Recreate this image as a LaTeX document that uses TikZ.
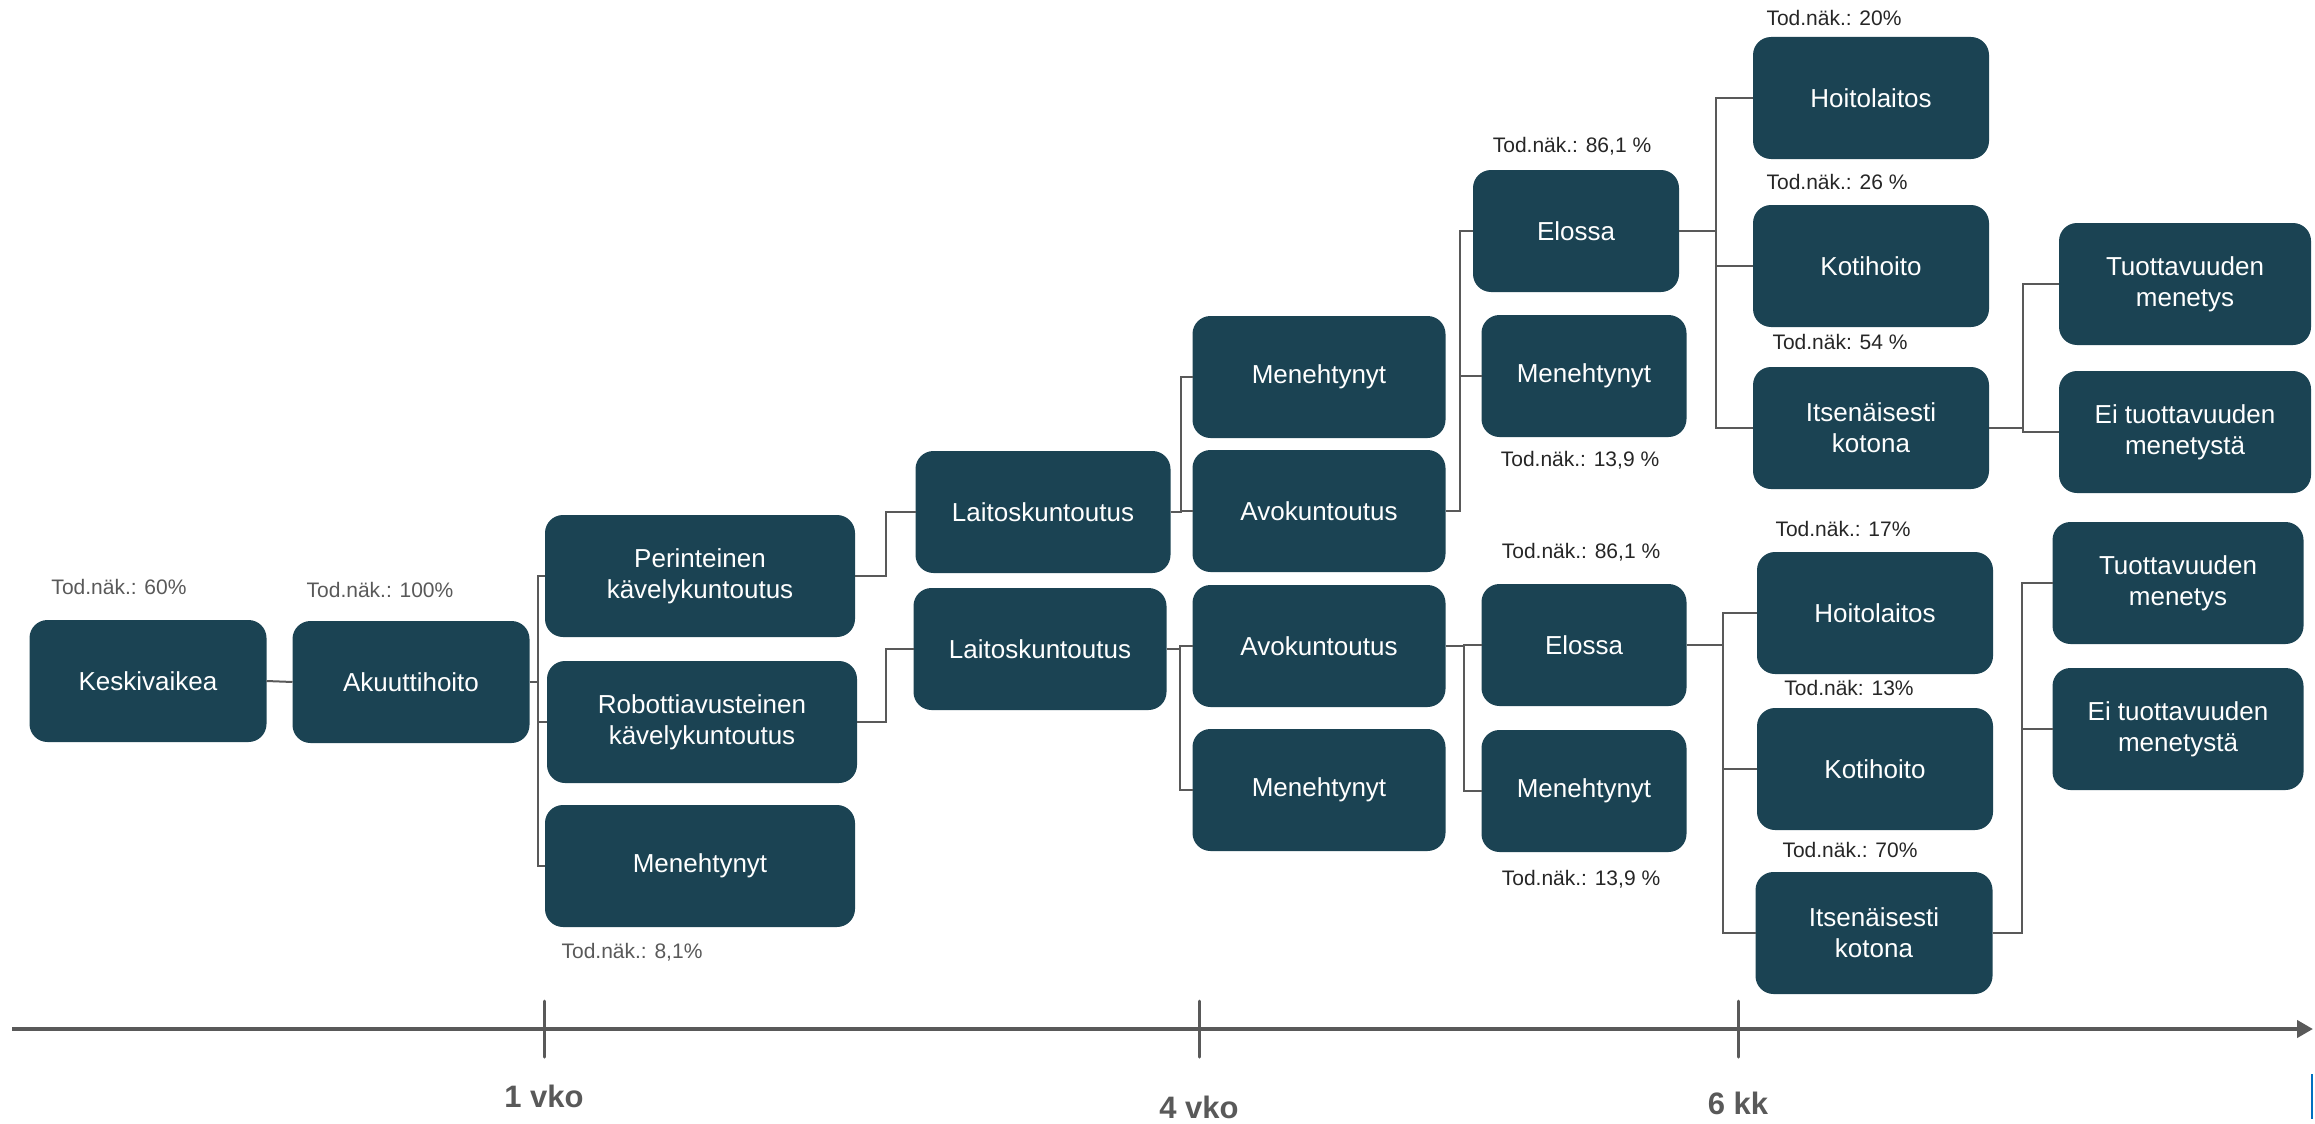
\documentclass[tikz,border=0pt]{standalone}
\usepackage{fontspec}
\setmainfont{Liberation Sans}
\usepackage{xcolor}
\usepackage{tikz}
\usetikzlibrary{arrows.meta}
\definecolor{boxfill}{HTML}{1B4353}
\definecolor{linegray}{HTML}{595959}
\definecolor{probdark}{HTML}{262626}
\definecolor{markblue}{HTML}{0070C0}
\tikzset{
  box/.style={rectangle, fill=boxfill, rounded corners=18pt, text=white, align=center, inner sep=0pt, outer sep=0pt, minimum width=#1pt, minimum height=122pt, font=\fontsize{26}{31}\selectfont},
  box/.default=237,
  prob/.style={text=probdark, inner sep=0pt, font=\fontsize{21}{25}\selectfont},
  conn/.style={draw=linegray, line width=2pt},
  axis/.style={draw=linegray, line width=4pt, -{Triangle[length=16pt, width=17pt]}},
  tickmark/.style={draw=linegray, line width=3pt, line cap=round},
  timelabel/.style={text=linegray, font=\bfseries\fontsize{31}{37}\selectfont},
}

\begin{document}
\begin{tikzpicture}[x=1pt, y=-1pt]
    \useasboundingbox (0,0) rectangle (2315,1124);

    \node[box] (kesk) at (148,681) {Keskivaikea};
    \node[box] (akuutti) at (411,682) {Akuuttihoito};
    \node[box=310] (perint) at (700,576) {Perinteinen\\kävelykuntoutus};
    \node[box=310] (robot) at (702,722) {Robottiavusteinen\\kävelykuntoutus};
    \node[box=310] (men1) at (700,866) {Menehtynyt};
    \node[box=255] (lait1) at (1043,512) {Laitoskuntoutus};
    \node[box=253] (lait2) at (1040,649) {Laitoskuntoutus};
    \node[box=253] (menA) at (1319,377) {Menehtynyt};
    \node[box=253] (avoA) at (1319,511) {Avokuntoutus};
    \node[box=253] (avoB) at (1319,646) {Avokuntoutus};
    \node[box=253] (menB) at (1319,790) {Menehtynyt};
    \node[box=206] (eloA) at (1576,231) {Elossa};
    \node[box=205] (menC) at (1584,376) {Menehtynyt};
    \node[box=205] (eloB) at (1584,645) {Elossa};
    \node[box=205] (menD) at (1584,791) {Menehtynyt};
    \node[box=236] (hoiA) at (1871,98) {Hoitolaitos};
    \node[box=236] (kotA) at (1871,266) {Kotihoito};
    \node[box=236] (itsA) at (1871,428) {Itsenäisesti\\kotona};
    \node[box=236] (hoiB) at (1875,613) {Hoitolaitos};
    \node[box=236] (kotB) at (1875,769) {Kotihoito};
    \node[box=237] (itsB) at (1874,933) {Itsenäisesti\\kotona};
    \node[box=252] (tuoA) at (2185,284) {Tuottavuuden\\menetys};
    \node[box=252] (eiA) at (2185,432) {Ei tuottavuuden\\menetystä};
    \node[box=251] (tuoB) at (2178,583) {Tuottavuuden\\menetys};
    \node[box=251] (eiB) at (2178,729) {Ei tuottavuuden\\menetystä};

    \node[prob, text=linegray] (p60) at (119,587) {Tod.näk.: 60\%};
    \node[prob, text=linegray] (p100) at (380,590) {Tod.näk.: 100\%};
    \node[prob, text=linegray] (p81) at (632,952) {Tod.näk.: 8,1\%};
    \node[prob] (pEloA) at (1572,146) {Tod.näk.: 86,1 \%};
    \node[prob] (pMenC) at (1580,460) {Tod.näk.: 13,9 \%};
    \node[prob] (pEloB) at (1581,552) {Tod.näk.: 86,1 \%};
    \node[prob] (pMenD) at (1581,879) {Tod.näk.: 13,9 \%};
    \node[prob] (pHoiA) at (1834,18) {Tod.näk.: 20\%};
    \node[prob] (pKotA) at (1837,182) {Tod.näk.: 26 \%};
    \node[prob] (pItsA) at (1840,342) {Tod.näk: 54 \%};
    \node[prob] (pHoiB) at (1843,529) {Tod.näk.: 17\%};
    \node[prob] (pKotB) at (1849,688) {Tod.näk: 13\%};
    \node[prob] (pItsB) at (1850,850) {Tod.näk.: 70\%};

    \draw[conn] (kesk.east) -- (akuutti.west);
    \foreach \n in {perint,robot,men1}
      \draw[conn] (akuutti.east) -- ++(8,0) |- (\n.west);
    \draw[conn] (perint.east) -- ++(31,0) |- (lait1.west);
    \draw[conn] (robot.east) -- ++(29,0) |- (lait2.west);
    \foreach \n in {menA,avoA}
      \draw[conn] (lait1.east) -- ++(10,0) |- (\n.west);
    \foreach \n in {avoB,menB}
      \draw[conn] (lait2.east) -- ++(13,0) |- (\n.west);
    \foreach \n in {eloA,menC}
      \draw[conn] (avoA.east) -- ++(14,0) |- (\n.west);
    \foreach \n in {eloB,menD}
      \draw[conn] (avoB.east) -- ++(18,0) |- (\n.west);
    \foreach \n in {hoiA,kotA,itsA}
      \draw[conn] (eloA.east) -- ++(37,0) |- (\n.west);
    \foreach \n in {hoiB,kotB,itsB}
      \draw[conn] (eloB.east) -- ++(36,0) |- (\n.west);
    \foreach \n in {tuoA,eiA}
      \draw[conn] (itsA.east) -- ++(34,0) |- (\n.west);
    \foreach \n in {tuoB,eiB}
      \draw[conn] (itsB.east) -- ++(29,0) |- (\n.west);

    \coordinate (tstart) at (12,1029);
    \coordinate (tend) at (2313,1029);
    \draw[axis] (tstart) -- (tend);
    \foreach \x/\y/\t in {544/1096/1 vko, 1199/1107/4 vko, 1738/1103/6 kk} {
      \draw[tickmark] (\x,1001) -- (\x,1057);
      \node[timelabel] (t\x) at (\x,\y) {\t};
    }
    \draw[markblue, line width=2pt] (2312,1074) -- (2312,1119);
\end{tikzpicture}
\end{document}
